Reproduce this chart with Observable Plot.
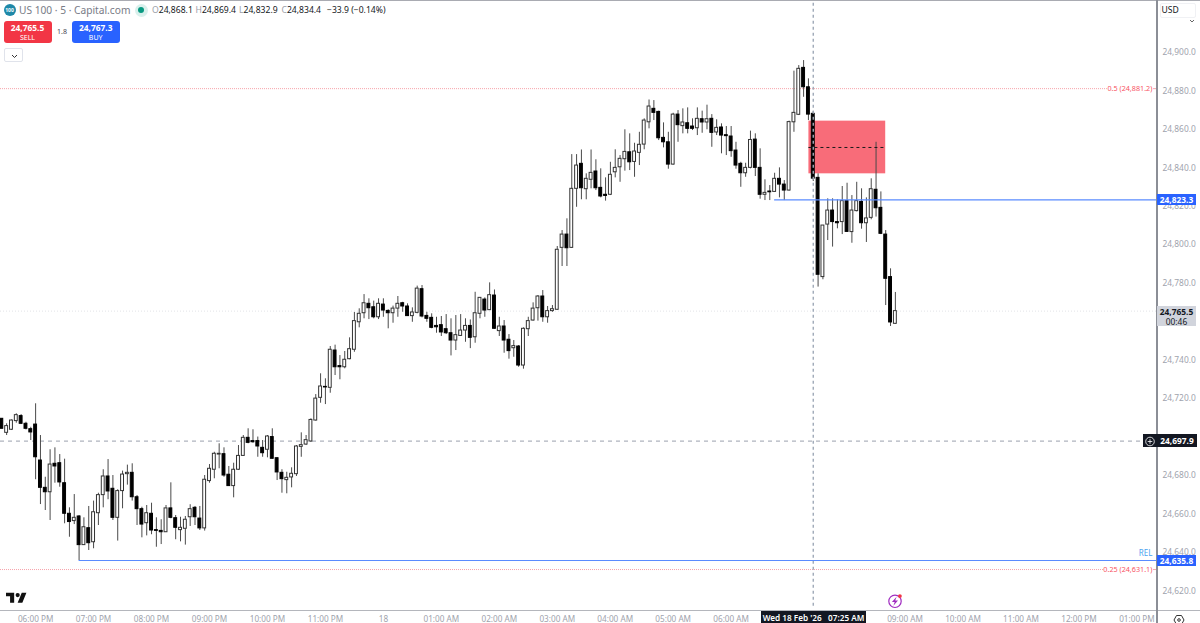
<!DOCTYPE html>
<html><head><meta charset="utf-8">
<script src="https://cdn.jsdelivr.net/npm/d3@7"></script>
<script src="https://cdn.jsdelivr.net/npm/@observablehq/plot@0.6"></script>
<style>
html,body{margin:0;padding:0;background:#fff;overflow:hidden}
#wrap{position:relative;width:1200px;height:623px;font-family:"Noto Sans",sans-serif;overflow:hidden}
#wrap svg.plot{display:block}
.abs{position:absolute;white-space:nowrap;line-height:1}
.tag{position:absolute;left:1157px;width:39px;text-align:center;font-size:8.4px;font-weight:700;color:#fff}
.btn{position:absolute;top:21px;width:48px;height:22px;border-radius:3px;color:#fff;text-align:center}
</style></head>
<body><div id="wrap"></div>
<script>
// Prices are stored as points above this base level
const base = 24000;
const highs = [
709.5,706.9,708.9,712.1,711.7,707.7,705.1,717.3,700.8,679.1,
693.4,694.4,690.9,688.5,663.2,670.1,659.2,658.0,663.9,666.7,
670.8,683.0,688.3,680.0,672.6,682.3,685.4,686.1,669.6,663.5,
664.4,665.6,658.0,657.0,664.4,676.2,659.2,658.3,658.7,664.8,
663.9,663.9,680.0,685.7,692.1,696.5,694.4,684.7,686.4,695.6,
700.8,704.3,703.8,700.0,698.2,700.8,704.3,689.2,683.0,681.7,
684.0,695.6,702.2,700.8,709.5,722.1,732.9,730.3,747.1,747.8,
742.4,744.5,751.6,764.8,766.7,774.1,771.9,770.7,771.9,771.9,
766.2,768.1,773.1,770.1,769.3,767.2,778.5,778.8,764.9,764.1,
762.3,762.7,763.7,761.5,763.2,763.7,761.5,760.9,775.3,772.4,
772.4,780.2,776.5,762.3,760.6,753.3,750.2,747.6,756.8,762.3,
769.8,773.6,776.2,767.9,768.4,799.1,807.4,813.5,846.9,846.9,
849.3,836.9,849.3,844.2,839.5,834.8,842.9,849.4,846.4,859.8,
857.7,852.8,858.5,865.5,875.3,875.0,869.5,863.4,858.5,868.4,
869.8,870.7,871.2,865.5,871.2,869.5,872.6,867.7,865.0,862.9,
861.5,861.5,853.3,842.9,842.4,859.1,857.7,849.9,833.8,830.8,
837.2,840.0,833.4,864.3,890.3,893.2,895.8,886.3,869.4,836.9,
810.0,823.9,823.9,823.4,830.3,832.0,825.6,832.5,829.1,824.4,
834.3,853.3,827.5,807.4,787.5,775.2];
const bodyTops = [
709.5,705.7,708.6,711.4,710.9,706.9,704.1,706.5,687.8,673.6,
685.7,686.1,686.4,676.0,660.1,658.0,658.7,653.1,652.6,660.9,
669.8,679.5,679.5,673.1,671.9,680.5,681.4,681.4,668.7,662.5,
660.4,660.1,651.6,651.2,662.9,662.9,657.8,652.8,657.0,662.5,
663.2,657.6,677.8,683.5,691.3,691.3,691.1,680.4,683.0,690.2,
699.6,699.6,697.9,697.9,694.4,700.3,700.0,689.0,681.4,678.8,
680.9,695.1,695.8,698.4,708.9,720.0,726.3,726.1,745.4,745.0,
736.9,740.2,745.7,760.3,764.1,769.6,769.3,767.5,769.3,768.9,
765.6,766.8,769.3,769.6,767.9,764.8,777.2,776.9,763.0,762.0,
757.8,758.2,756.1,754.0,753.0,755.4,757.8,757.8,764.4,772.4,
771.5,773.8,773.6,757.5,757.5,750.6,747.3,747.1,756.3,760.3,
766.8,773.1,773.1,765.5,766.5,797.4,805.3,805.3,829.1,841.2,
842.1,834.3,837.4,838.1,829.6,826.0,836.4,840.0,844.7,848.3,
848.1,848.5,852.0,864.6,871.9,870.7,869.1,855.6,853.3,867.7,
867.7,863.6,863.2,861.5,865.5,865.3,865.3,865.5,860.8,861.0,
857.0,856.3,849.0,842.1,840.0,854.5,854.7,840.0,827.0,827.7,
834.3,834.3,831.3,863.8,868.6,891.5,892.0,881.9,868.1,834.8,
810.0,817.8,817.8,811.8,822.7,822.7,817.8,822.7,822.3,813.7,
828.9,828.6,819.2,805.3,783.2,765.5];
const bodyBottoms = [
704.3,702.2,703.8,708.3,706.9,704.3,702.4,689.5,673.6,671.3,
671.3,684.7,676.4,660.1,655.8,656.3,643.8,643.8,644.8,645.3,
660.4,669.8,671.7,658.0,658.0,671.9,680.7,668.7,662.5,654.5,
655.2,651.4,651.2,650.5,650.5,658.0,652.8,651.6,652.3,658.3,
658.3,652.5,652.5,677.1,683.0,690.9,680.0,674.5,674.5,683.0,
690.2,697.0,697.3,695.1,691.6,693.4,688.7,681.6,678.1,677.6,
679.0,680.7,694.9,696.1,697.7,708.6,720.4,725.8,725.6,736.3,
736.3,736.3,740.5,745.4,759.7,764.4,767.0,762.3,762.3,765.8,
764.4,764.4,766.8,767.9,762.9,762.9,764.6,762.7,761.5,756.8,
757.1,754.4,754.0,750.2,750.2,752.6,755.4,751.6,751.9,764.1,
765.8,766.0,756.3,755.1,750.2,744.7,746.2,737.2,737.2,756.1,
760.6,767.0,762.3,762.3,765.5,766.2,798.4,798.2,798.4,829.1,
829.4,828.9,833.8,829.4,825.1,825.4,826.0,837.7,840.3,844.5,
842.9,843.1,847.8,852.1,863.7,868.6,855.4,853.3,841.7,841.7,
862.2,861.7,860.3,860.3,860.6,863.6,863.6,858.2,858.4,856.8,
856.5,848.7,841.2,837.2,837.2,840.0,840.0,826.0,826.0,827.3,
827.5,831.3,828.2,828.2,863.7,867.6,881.9,867.7,834.4,784.4,
783.2,810.5,811.8,811.2,811.8,806.7,806.6,817.5,811.2,811.2,
814.0,819.0,805.7,782.3,759.6,758.9];
const lows = [
704.3,700.8,703.4,707.2,706.5,703.7,698.2,677.8,664.9,661.8,
656.6,676.0,673.9,654.9,647.9,654.5,635.8,643.6,641.0,641.9,
654.0,663.2,667.4,656.6,645.9,662.7,675.0,666.7,654.0,647.6,
648.6,649.2,642.7,644.1,650.4,657.5,646.6,645.5,643.8,653.5,
654.0,651.4,651.1,676.0,678.3,683.5,679.1,674.3,668.4,682.6,
689.9,696.5,696.8,689.5,689.5,689.2,688.5,677.4,670.8,670.5,
673.6,679.5,689.5,695.6,697.2,708.3,717.6,716.9,722.8,732.0,
729.8,735.5,740.2,744.1,756.8,761.5,761.1,761.5,761.1,762.3,
756.3,759.2,762.3,764.9,762.7,759.7,764.1,762.0,759.7,756.3,
754.0,752.3,753.3,742.2,745.0,752.3,749.3,746.0,748.8,761.5,
762.3,765.8,756.1,752.3,743.6,740.5,741.5,736.3,735.3,752.3,
760.3,760.3,759.7,759.2,764.9,765.8,788.7,788.7,798.1,819.5,
823.4,823.4,829.1,828.2,824.4,822.7,825.6,834.8,832.5,838.3,
838.6,835.1,841.2,849.4,860.3,864.6,854.2,850.4,839.3,841.4,
853.3,857.7,857.7,859.4,856.8,858.0,859.8,850.7,856.8,847.3,
846.4,845.5,839.3,829.9,835.1,839.5,835.5,823.7,823.0,823.0,
827.3,824.4,823.0,827.9,858.5,867.2,876.7,864.6,832.9,778.0,
781.8,802.2,798.8,808.3,805.3,806.4,800.8,817.1,808.1,801.2,
813.0,814.4,805.3,768.4,757.5,758.6];
const directions =
"BWWWBBBBBB"+"WBBBBWBWBW"+"WWBBWWWBBB"+"WBBBWBBWWW"+"BBWWWWBBWW"+
"WBBBBWBBBW"+"WWWWWWWBWB"+"BWWWWWBBWB"+"BWWBBWWBBB"+"BBBBWWWBWW"+
"BWBWBBWBWW"+"WWBWWWWBWW"+"BWWBBBWWWW"+"BWWWWBBBBW"+"BWBBWBWBWB"+
"BBBBWWBBWB"+"WBBWWWBBBB"+"WWBBWBWWBW"+"WBBBBW";

// 24,700 and 24,760 sit fully behind price tags in the reference, so they show no label
const yTicks = [24620,24640,24660,24680,24720,24740,24780,24800,24820,24840,24860,24880,24900];
const xTickIndex = [7,19,31,43,55,67,79,91,103,115,127,139,151,187,199,211,223,235];
const xTickLabels = ["06:00 PM","07:00 PM","08:00 PM","09:00 PM","10:00 PM","11:00 PM","18","01:00 AM","02:00 AM","03:00 AM","04:00 AM","05:00 AM","06:00 AM","09:00 AM","10:00 AM","11:00 AM","12:00 PM","01:00 PM"];

const fib50 = 24881.2, fib25 = 24631.1, lastPrice = 24765.5;
const midLevel = 24697.9, levelA = 24823.3, levelB = 24635.8;
const crossIndex = 168, levelAStart = 160, levelBStart = 16;
const zone = {i1: 167.1, i2: 183, top: 24864.3, bottom: 24836.9, mid: 24850.6};
const rightEnd = 239.27, fibEnd50 = 228.9, fibEnd25 = 228.1, labelIndex = 238.2, stubStart = 238.45;

const candles = highs.map((h, i) => {
  const up = directions[i] === "W";
  const t = base + bodyTops[i], b = base + bodyBottoms[i];
  return {i, high: base + h, low: base + lows[i], open: up ? b : t, close: up ? t : b, top: t, bottom: b, up,
          x1: i - 0.3, x2: i + 0.3};
});

const pink = "#f7a3ab", red = "#f7525f", blue = "#5a8bff";
const chart = Plot.plot({
  width: 1200, height: 623,
  marginTop: 0, marginRight: 43, marginBottom: 13, marginLeft: 0,
  style: {fontFamily: '"Noto Sans",sans-serif', background: "#fff", overflow: "visible"},
  x: {type: "linear", domain: [-0.27, rightEnd], axis: null},
  y: {type: "linear", domain: [24609.8, 24927.04], axis: null},
  marks: [
    Plot.rect([zone], {x1: "i1", x2: "i2", y1: "bottom", y2: "top", fill: "#f86c79"}),
    Plot.ruleY([lastPrice], {stroke: "#e2e3e7", strokeWidth: 1, strokeDasharray: "1,2"}),
    Plot.ruleY([midLevel], {x1: -0.27, x2: 236.3, stroke: "#9aa0ad", strokeWidth: 1, strokeDasharray: "4,4"}),
    Plot.ruleY([fib50], {x1: -0.27, x2: fibEnd50, stroke: pink, strokeWidth: 1, strokeDasharray: "1,1"}),
    Plot.ruleY([fib25], {x1: -0.27, x2: fibEnd25, stroke: pink, strokeWidth: 1, strokeDasharray: "1,1"}),
    Plot.ruleY([fib50, fib25], {x1: stubStart, x2: rightEnd, stroke: pink, strokeWidth: 1}),
    Plot.ruleX(candles, {x: "i", y1: "low", y2: "high", stroke: "#4a4a4a", strokeWidth: 1}),
    Plot.rect(candles, {x1: "x1", x2: "x2", y1: "bottom", y2: "top",
      fill: d => d.up ? "#fff" : "#000", stroke: d => d.up ? "#333" : "#000", strokeWidth: 1}),
    Plot.ruleX([crossIndex], {y1: 24612, y2: 24927, stroke: "#9fa9b8", strokeWidth: 1.4, strokeDasharray: "3,3"}),
    Plot.ruleY([zone.mid], {x1: zone.i1, x2: zone.i2, stroke: "#1a1a1a", strokeWidth: 1, strokeDasharray: "3,3"}),
    Plot.ruleY([levelA], {x1: levelAStart, x2: rightEnd, stroke: blue, strokeWidth: 1.2}),
    Plot.ruleY([levelB], {x1: levelBStart, x2: rightEnd, stroke: blue, strokeWidth: 1.2}),
    Plot.text(["0.5 (24,881.2)"], {x: labelIndex, y: fib50, text: d => d, textAnchor: "end", fill: red, fontSize: 7.2}),
    Plot.text(["0.25 (24,631.1)"], {x: labelIndex, y: fib25, text: d => d, textAnchor: "end", fill: red, fontSize: 7.2}),
    Plot.text(["REL"], {x: labelIndex, y: 24639.5, text: d => d, textAnchor: "end", fill: "#4aa3f0", fontSize: 8}),
    Plot.axisY({anchor: "right", ticks: yTicks, tickFormat: d3.format(",.1f"), tickSize: 0, tickPadding: 5, fontSize: 8.4, color: "#a0a3ad"}),
    Plot.axisX({anchor: "bottom", ticks: xTickIndex, tickFormat: d => xTickLabels[xTickIndex.indexOf(d)], tickSize: 0, tickPadding: 6, fontSize: 8.2, color: "#a0a3ad"})
  ]
});

const wrap = document.getElementById("wrap");
wrap.appendChild(chart);
const yPos = v => chart.scale("y").apply(v);
function add(html, css, cls) {
  const d = document.createElement("div");
  d.className = cls || "abs";
  d.style.cssText = css;
  d.innerHTML = html;
  wrap.appendChild(d);
  return d;
}
// frame lines
add("", "left:0;top:0;width:1200px;height:1px;background:#a9abb2");
add("", "left:0;top:609.5px;width:1200px;height:1.2px;background:#b4b6bc");
add("", "left:1156.4px;top:0;width:1.2px;height:623px;background:#8b8e96");

// price tags on the right axis
const fmt = d3.format(",.1f");
[levelA, levelB].forEach(v => add(fmt(v), `top:${yPos(v)-5.5}px;height:11px;line-height:11px;background:#2962ff`, "tag"));
add(fmt(midLevel), `left:1157px;width:40px;top:${yPos(midLevel)-6.5}px;height:13px;line-height:13px;background:#131722;text-align:center`, "tag");
add('<svg width="14" height="13" viewBox="0 0 14 13"><circle cx="7" cy="6.5" r="4.3" fill="none" stroke="#fff" stroke-width=".8"/><path d="M7 4.2v4.6M4.7 6.5h4.6" stroke="#fff" stroke-width=".8"/></svg>',
    `left:1143px;top:${yPos(midLevel)-6.5}px;width:14px;height:13px;background:#131722`);
add(`<div style="height:11px;line-height:11px;font-weight:700">${fmt(lastPrice)}</div><div style="height:9px;line-height:9px;font-weight:400">00:46</div>`,
    `top:${yPos(lastPrice)-5}px;height:20px;background:#d1d4dc;color:#131722`, "tag");

// header
add('100', 'left:3.5px;top:4px;width:12px;height:12px;border-radius:50%;background:#1e88a8;color:#fff;font-size:5px;line-height:12px;text-align:center;font-weight:700');
add('US 100 · 5 · Capital.com', 'left:19px;top:4.5px;font-size:10.2px;color:#787b86');
add('', 'left:134.5px;top:3.5px;width:13px;height:13px;border-radius:50%;background:#d9f0ec');
add('', 'left:138px;top:7px;width:6px;height:6px;border-radius:50%;background:#089981');
const ohlc = [["O","24,868.1",152],["H","24,869.4",195.5],["L","24,832.9",239],["C","24,834.4",281.5]];
ohlc.forEach(([k,v,x]) => add(`<span style="color:#9a9ea8">${k}</span>${v}`, `left:${x}px;top:6px;font-size:8.6px;color:#131722`));
add('−33.9 (−0.14%)', 'left:327px;top:6px;font-size:8.6px;color:#131722');

// buttons
add('<div style="font-size:8.4px;font-weight:700;line-height:11px;margin-top:1px">24,765.5</div><div style="font-size:7px;line-height:9px">SELL</div>', 'left:3.5px;background:#f23645', 'btn');
add('1.8', 'left:57px;top:27.5px;font-size:7px;color:#434651');
add('<div style="font-size:8.4px;font-weight:700;line-height:11px;margin-top:1px">24,767.3</div><div style="font-size:7px;line-height:9px">BUY</div>', 'left:71.7px;background:#2962ff', 'btn');
add('<svg width="19" height="14" viewBox="0 0 19 14"><path d="M7 6l2.5 2.5L12 6" fill="none" stroke="#333" stroke-width="1"/></svg>',
    'left:3.5px;top:47.5px;width:19px;height:14px;border:1px solid #e0e3eb;border-radius:2px;box-sizing:border-box');

// USD selector
add('', 'left:1160px;top:3px;width:36px;height:15px;border:1px solid #f0f1f4;border-radius:2px;box-sizing:border-box');
add('USD', 'left:1161.5px;top:6px;font-size:8.6px;color:#131722');
add('<svg width="6" height="4" viewBox="0 0 6 4"><path d="M1 1l2 2 2-2" fill="none" stroke="#555" stroke-width=".9"/></svg>', 'left:1189px;top:9px');

// crosshair time label
add("Wed 18 Feb '26&nbsp;&nbsp;&nbsp;07:25 AM", 'left:761px;top:611px;width:105px;height:12px;background:#131722;color:#fff;font-size:8.2px;font-weight:600;line-height:13px;text-align:center');

// icons
add('<svg width="21" height="12" viewBox="0 0 36 20"><path d="M14 18H7V7H0V1h14zM28 18h-8L27 1h8z" fill="#111"/><circle cx="20" cy="5" r="3.6" fill="#111"/></svg>', 'left:6px;top:589.5px');
add('<svg width="16" height="16" viewBox="0 0 16 16"><circle cx="8" cy="8.3" r="6.2" fill="#fff" stroke="#a02cc0" stroke-width="1.2"/><path d="M9.6 3.8L4.9 9h2.8L6.4 12.8 11 7.5H8.2z" fill="#a02cc0"/><circle cx="12.9" cy="3.1" r="1.9" fill="#f23645"/></svg>', 'left:887px;top:593px');
add('<svg width="12" height="12" viewBox="0 0 12 12"><path d="M3.5 1.5h5L11 6 8.5 10.5h-5L1 6z" fill="none" stroke="#333" stroke-width="1"/><circle cx="6" cy="6" r="1.3" fill="none" stroke="#333" stroke-width="1"/></svg>', 'left:1172.5px;top:611.5px');
</script></body></html>
